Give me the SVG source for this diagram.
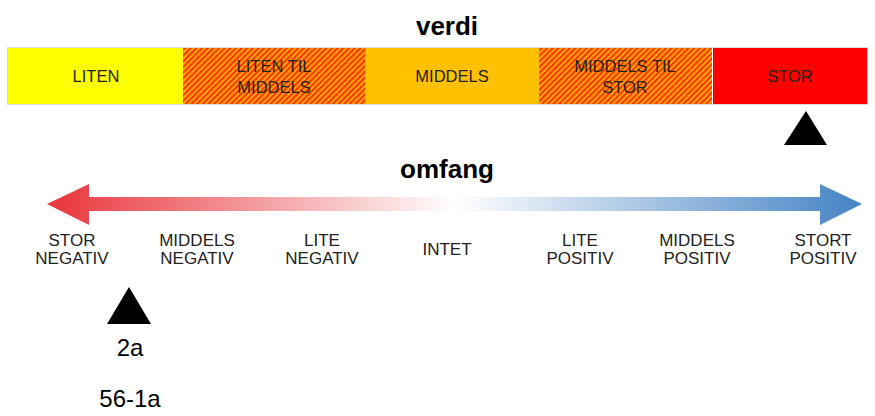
<svg xmlns="http://www.w3.org/2000/svg" width="875" height="416" viewBox="0 0 875 416">
  <style>
    .title { font-family: "Liberation Sans", Arial, sans-serif; font-size: 26px; font-weight: bold; fill: #000; text-anchor: middle; }
    .cell { font-family: "Liberation Sans", Arial, sans-serif; font-size: 16.5px; fill: #222; text-anchor: middle; }
    .scale { font-family: "Liberation Sans", Arial, sans-serif; font-size: 17px; fill: #222; text-anchor: middle; }
    .mark { font-family: "Liberation Sans", Arial, sans-serif; font-size: 24px; fill: #000; text-anchor: middle; }
  </style>
  <defs>
    <pattern id="hatch" width="4" height="4" patternUnits="userSpaceOnUse" patternTransform="rotate(45)">
      <rect width="4" height="4" fill="#ffa500"/>
      <rect x="0" y="0" width="1.6" height="4" fill="#ff1a00"/>
    </pattern>
    <linearGradient id="scaleGrad" x1="47" y1="0" x2="862" y2="0" gradientUnits="userSpaceOnUse">
      <stop offset="0" stop-color="#e8343a"/>
      <stop offset="0.5" stop-color="#ffffff"/>
      <stop offset="1" stop-color="#4583c4"/>
    </linearGradient>
  </defs>

  <text class="title" x="447" y="35">verdi</text>

  <g id="value-bar">
    <rect x="7.5" y="47.5" width="860" height="57" fill="none" stroke="#d9d9d9" stroke-width="1"/>
    <g id="cell-liten">
      <rect x="8" y="48" width="175" height="56" fill="#ffff00"/>
      <text class="cell" x="96" y="82">LITEN</text>
    </g>
    <g id="cell-liten-til-middels">
      <rect x="183" y="48" width="182" height="56" fill="url(#hatch)"/>
      <text class="cell" x="274" y="72">LITEN TIL</text>
      <text class="cell" x="274" y="93">MIDDELS</text>
    </g>
    <g id="cell-middels">
      <rect x="365" y="48" width="174" height="56" fill="#ffc000"/>
      <text class="cell" x="452" y="82">MIDDELS</text>
    </g>
    <g id="cell-middels-til-stor">
      <rect x="539" y="48" width="173" height="56" fill="url(#hatch)"/>
      <text class="cell" x="625" y="72">MIDDELS TIL</text>
      <text class="cell" x="625" y="93">STOR</text>
    </g>
    <g id="cell-stor">
      <rect x="713" y="48" width="154" height="56" fill="#ff0000"/>
      <line x1="712.5" y1="48" x2="712.5" y2="104" stroke="#ffffff" stroke-width="1"/>
      <text class="cell" x="790" y="82">STOR</text>
    </g>
  </g>

  <g id="value-marker">
    <polygon points="806,111 827,145 784,145" fill="#000"/>
  </g>

  <text class="title" x="447" y="178">omfang</text>

  <g id="connectors">
    <polygon id="scale-arrow" points="47,204 89,184 89,197 820,197 820,184 862,204 820,225 820,211 89,211 89,225" fill="url(#scaleGrad)"/>
  </g>

  <g id="scale-labels">
    <g id="stor-negativ"><text class="scale" x="72" y="246">STOR</text><text class="scale" x="72" y="264">NEGATIV</text></g>
    <g id="middels-negativ"><text class="scale" x="197" y="246">MIDDELS</text><text class="scale" x="197" y="264">NEGATIV</text></g>
    <g id="lite-negativ"><text class="scale" x="322" y="246">LITE</text><text class="scale" x="322" y="264">NEGATIV</text></g>
    <g id="intet"><text class="scale" x="447" y="255">INTET</text></g>
    <g id="lite-positiv"><text class="scale" x="580" y="246">LITE</text><text class="scale" x="580" y="264">POSITIV</text></g>
    <g id="middels-positiv"><text class="scale" x="697" y="246">MIDDELS</text><text class="scale" x="697" y="264">POSITIV</text></g>
    <g id="stort-positiv"><text class="scale" x="823" y="246">STORT</text><text class="scale" x="823" y="264">POSITIV</text></g>
  </g>

  <g id="scale-marker">
    <polygon points="129,287 151,324 107,324" fill="#000"/>
    <text class="mark" x="130" y="356">2a</text>
    <text class="mark" x="130" y="407">56-1a</text>
  </g>
</svg>
